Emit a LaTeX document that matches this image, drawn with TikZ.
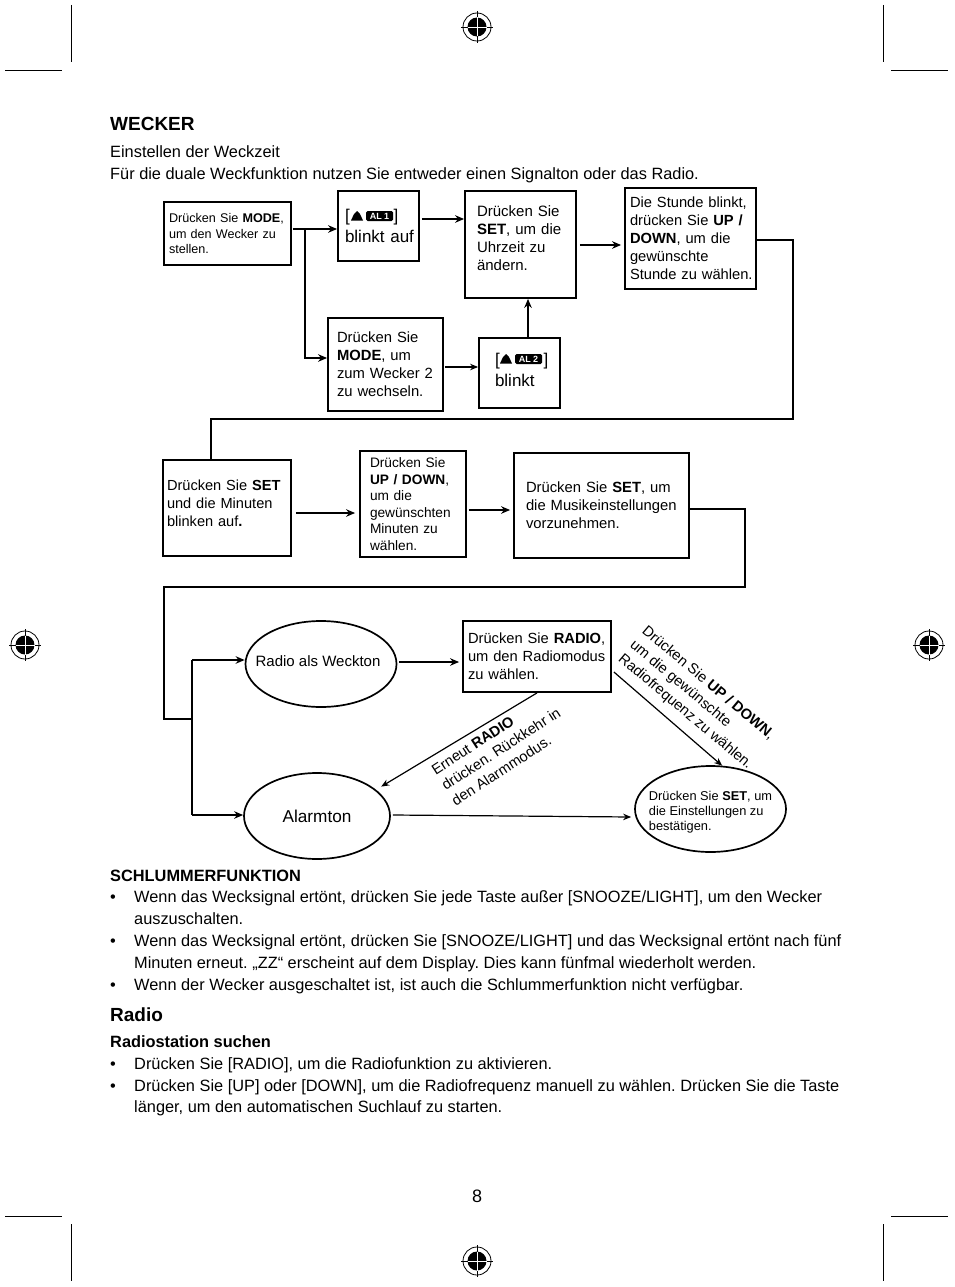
\documentclass[tikz,border=0pt]{standalone}
\usepackage{fontspec}
\setmainfont{Liberation Sans}
\usetikzlibrary{arrows.meta,shapes.geometric}

\newcommand{\fs}[2]{\fontsize{#1}{#2}\selectfont}
\frenchspacing

\begin{document}
\begin{tikzpicture}[%
	x=1pt, y=-1pt,
	box/.style n args={3}{draw, line width=1.8pt, rectangle, minimum width=#1, minimum height=#2,
		text width=#1-2*#3, inner xsep=#3, inner ysep=0pt, align=left},
	oval/.style n args={2}{draw, line width=1.7pt, ellipse, minimum width=#1, minimum height=#2, inner xsep=-12pt, inner ysep=0pt, align=left},
	txt/.style={anchor=base west, inner sep=0pt, font=\fs{16.35}{20}},
	dick0/.style={draw,line width=2.1pt},
	dick/.style={dick0,-{Stealth[length=9pt,width=7.5pt]}},
	duenn0/.style={draw,line width=1.2pt},
	duenn/.style={duenn0,-{Stealth[length=8pt,width=6.5pt]}},
	crop/.style={draw,line width=1pt},
	regmark/.pic={
		\draw[line width=0.8pt] (0,0) circle (14);
		\fill (0,0) circle (9.5);
		\draw[line width=0.9pt] (-16,0) -- (16,0) (0,-16) -- (0,16);
		\draw[white,line width=0.9pt] (-9.5,0) -- (9.5,0) (0,-9.5) -- (0,9.5);
	},
	altag/.pic={
		\fill (-9,-5) -- (-6,-2) -- (-3,4.5) -- (-15,4.5) -- (-12,-2) -- cycle;
		\fill[rounded corners=1.5pt] (0,-5) rectangle (27,5);
		\node[white, inner sep=0pt, font=\fs{9}{9}\bfseries] (-label) at (13.5,0) {#1};
	}
]
\useasboundingbox (0,0) rectangle (954,1287);

% crop marks
\path[crop] (71,5) -- (71,62) (5,71) -- (62,71);
\path[crop] (883,5) -- (883,62) (891,71) -- (948,71);
\path[crop] (71,1224) -- (71,1281) (5,1216) -- (62,1216);
\path[crop] (883,1224) -- (883,1281) (891,1216) -- (948,1216);
\pic at (477,27) {regmark};
\pic at (25,645) {regmark};
\pic at (929,645) {regmark};
\pic at (477,1261) {regmark};

% heading
\node[txt,font=\fs{19}{22}\bfseries] (title) at (110,131) {WECKER};
\node[txt] (intro1) at (110,157.5) {Einstellen der Weckzeit};
\node[txt] (intro2) at (110,179) {Für die duale Weckfunktion nutzen Sie entweder einen Signalton oder das Radio.};

% first row
\node[box={127}{63}{5},font=\fs{12.6}{15.5}] (mode) at (227.5,233.5) {Drücken Sie \textbf{MODE},\\um den Wecker zu\\stellen.};
\node[box={81}{70}{5},font=\fs{17}{21}] (al1) at (378.5,226) {\hspace*{2pt}[\hspace{44pt}]\\\hspace*{2pt}blinkt auf};
\node[box={111}{107}{12},text depth=66pt,font=\fs{15}{18}] (set1) at (520.5,244.5) {Drücken Sie\\\textbf{SET}, um die\\Uhrzeit zu\\ändern.};
\node[box={131}{101}{3},font=\fs{14.7}{18}] (stunde) at (690.5,238.5) {\hspace*{2pt}Die Stunde blinkt,\\\hspace*{2pt}drücken Sie \textbf{UP /}\\\hspace*{2pt}\textbf{DOWN}, um die\\\hspace*{2pt}gewünschte\\\hspace*{2pt}Stunde zu wählen.};
\node[box={115}{93}{8},font=\fs{14.8}{18}] (mode2) at (385.5,364.5) {\hspace*{1pt}Drücken Sie\\\hspace*{1pt}\textbf{MODE}, um\\\hspace*{1pt}zum Wecker 2\\\hspace*{1pt}zu wechseln.};
\node[box={81}{70}{4},text depth=28pt,font=\fs{17}{21}] (al2) at (519.5,373) {\hspace*{12pt}[\hspace{44pt}]\\\hspace*{12pt}blinkt};
\pic (tag1) at (366,216) {altag={AL 1}};
\pic (tag2) at (515,359) {altag={AL 2}};

% second row
\node[box={128}{96}{4},text depth=45pt,font=\fs{14.6}{18}] (minuten) at (227,508) {Drücken Sie \textbf{SET}\\und die Minuten\\blinken auf\textbf{.}};
\node[box={106}{106}{10},font=\fs{13.7}{16.6}] (updown) at (413,504) {Drücken Sie\\\textbf{UP / DOWN},\\um die\\gewünschten\\Minuten zu\\wählen.};
\node[box={175}{105}{11},font=\fs{14.8}{18}] (musik) at (601.5,505.5) {\hspace*{1pt}Drücken Sie \textbf{SET}, um\\\hspace*{1pt}die Musikeinstellungen\\\hspace*{1pt}vorzunehmen.};

% radio part
\node[oval={146}{86},text depth=6pt,font=\fs{15}{18}] (weckton) at (321,664) {Radio als Weckton\kern6pt};
\node[oval={146}{86},font=\fs{17.2}{20}] (alarm) at (317,816) {Alarmton};
\node[box={148}{71}{4},font=\fs{14.7}{18}] (radio) at (537,656.5) {\hspace*{1pt}Drücken Sie \textbf{RADIO},\\\hspace*{1pt}um den Radiomodus\\\hspace*{1pt}zu wählen.};
\node[oval={151}{86},text height=45pt,font=\fs{12.8}{15}] (confirm) at (710.5,809) {Drücken Sie \textbf{SET}, um\\die Einstellungen zu\\bestätigen.};

\node[inner sep=0pt,rotate=33,align=left,font=\fs{14.7}{18.4}] (back) at (501,749) {Erneut \textbf{RADIO}\\drücken. Rückkehr in\\den Alarmmodus.};
\node[inner sep=0pt,rotate=-40,align=left,font=\fs{14.7}{18.4}] (tune) at (697,698) {Drücken Sie \textbf{UP / DOWN},\\um die gewünschte\\Radiofrequenz zu wählen.};

% free ends of the long lines
\coordinate (c1) at (305,229);
\coordinate (c2) at (192,719);
\coordinate (c3) at (192,660);
\coordinate (c4) at (192,815);

\path[dick] (mode.east |- c1) ++(1,0) -- (al1.west |- c1);
\path[dick] (c1) |- (mode2.west |- 0,358);
\path[dick] (al1.east |- 0,219) ++(2,0) -- (set1.west |- 0,219);
\path[dick] (set1.east |- 0,245) ++(3,0) -- ([xshift=-3pt]stunde.west |- 0,245);
\path[duenn] (mode2.east |- 0,367) ++(1,0) -- (al2.west |- 0,367);
\path[dick] (al2.north -| 528,0) -- (set1.south -| 528,0);

\path[dick0] (stunde.east |- 0,240) -- (793,240) -- (793,419) -- (211,419) -- (minuten.north -| 211,0);
\path[dick] (minuten.east |- 0,513) ++(4,0) -- ([xshift=-4pt]updown.west |- 0,513);
\path[dick] (updown.east |- 0,510) ++(2,0) -- ([xshift=-3pt]musik.west |- 0,510);
\path[dick0] (musik.east |- 0,509) -- (745,509) -- (745,587) -- (164,587) -- (164,719) -- (c2);

\path[dick0] (c3) -- (c4);
\path[dick] (c3) -- (weckton.west |- c3);
\path[dick] (c4) -- (alarm.west |- c4);
\path[dick] (weckton.east |- 0,662) ++(2,0) -- ([xshift=-3pt]radio.west |- 0,662);
\path[duenn,shorten >=6pt] (radio.south) -- (alarm.24);
\path[duenn] (radio.east |- 0,672) ++(2,0) -- (confirm.75);
\path[duenn] (alarm.east |- 0,815) ++(2,0) -- ([xshift=-3pt]confirm.west |- 0,817);

% text below the diagram
\node[txt,font=\fs{16.35}{20}\bfseries] (snooze) at (110,881) {SCHLUMMERFUNKTION};
\node[txt] (b1) at (110,902) {•};
\node[txt] (s1a) at (134,902) {Wenn das Wecksignal ertönt, drücken Sie jede Taste außer [SNOOZE/LIGHT], um den Wecker};
\node[txt] (s1b) at (134,924) {auszuschalten.};
\node[txt] (b2) at (110,946) {•};
\node[txt] (s2a) at (134,946) {Wenn das Wecksignal ertönt, drücken Sie [SNOOZE/LIGHT] und das Wecksignal ertönt nach fünf};
\node[txt] (s2b) at (134,968) {Minuten erneut. „ZZ“ erscheint auf dem Display. Dies kann fünfmal wiederholt werden.};
\node[txt] (b3) at (110,990) {•};
\node[txt] (s3a) at (134,990) {Wenn der Wecker ausgeschaltet ist, ist auch die Schlummerfunktion nicht verfügbar.};

\node[txt,font=\fs{19}{22}\bfseries] (radiohead) at (110,1021) {Radio};
\node[txt,font=\fs{16.35}{20}\bfseries] (search) at (110,1047) {Radiostation suchen};
\node[txt] (b4) at (110,1069) {•};
\node[txt] (r1a) at (134,1069) {Drücken Sie [RADIO], um die Radiofunktion zu aktivieren.};
\node[txt] (b5) at (110,1091) {•};
\node[txt] (r2a) at (134,1091) {Drücken Sie [UP] oder [DOWN], um die Radiofrequenz manuell zu wählen. Drücken Sie die Taste};
\node[txt] (r2b) at (134,1112) {länger, um den automatischen Suchlauf zu starten.};

\node[txt,anchor=base,font=\fs{18}{22}] (page) at (477,1202) {8};

\end{tikzpicture}
\end{document}
